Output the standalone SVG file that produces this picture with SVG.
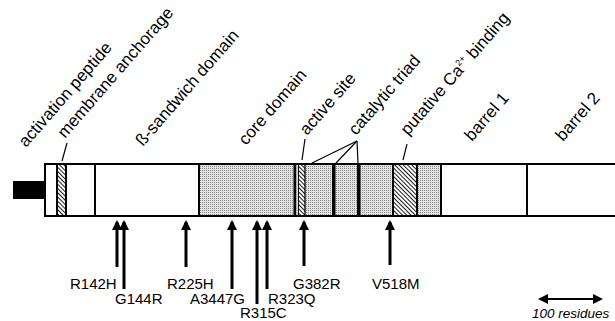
<svg xmlns="http://www.w3.org/2000/svg" width="615" height="321" viewBox="0 0 615 321">
<defs>
<pattern id="hatch" width="3" height="3" patternUnits="userSpaceOnUse" patternTransform="rotate(-45)">
<rect width="3" height="3" fill="#fff"/>
<line x1="0.5" y1="0" x2="0.5" y2="3" stroke="#000" stroke-width="0.9"/>
</pattern>
<pattern id="dots" width="2" height="2" patternUnits="userSpaceOnUse">
<rect width="2" height="2" fill="#e2e2e2"/>
<rect width="1" height="1" fill="#8a8a8a"/>
</pattern>
<marker id="ah" markerWidth="10" markerHeight="10" refX="8" refY="5" orient="auto-start-reverse" markerUnits="userSpaceOnUse" viewBox="0 0 10 10">
<path d="M0,0 L10,5 L0,10 Z" fill="#000"/>
</marker>
</defs>
<style>
.lbl{font-family:"Liberation Sans",Arial,sans-serif;font-size:17px;fill:#000}
.mut{font-family:"Liberation Sans",Arial,sans-serif;font-size:15px;fill:#000}
.arr{stroke:#000;stroke-width:3;fill:none}
.lead{stroke:#000;stroke-width:1.2;fill:none}
.div{stroke:#000;stroke-width:2}
</style>

<g id="stub"><rect x="13" y="181" width="33" height="18" fill="#000"/></g>

<g id="bar">
<rect x="45" y="164" width="580" height="52" fill="#fff" stroke="#000" stroke-width="2"/>
<rect x="57" y="165" width="9" height="50" fill="url(#hatch)"/>
<line class="div" x1="57" y1="164" x2="57" y2="216"/>
<line class="div" x1="66" y1="164" x2="66" y2="216"/>
<line class="div" x1="95" y1="164" x2="95" y2="216"/>
<rect x="199" y="165" width="242" height="50" fill="url(#dots)"/>
<line class="div" x1="199" y1="164" x2="199" y2="216"/>
<rect x="293.5" y="164" width="3" height="52" fill="#000"/>
<rect x="296.5" y="165" width="1.5" height="50" fill="#fff"/>
<line x1="298.5" y1="164" x2="298.5" y2="216" stroke="#000" stroke-width="1.3"/>
<rect x="299" y="165" width="6" height="50" fill="url(#hatch)"/>
<line x1="305" y1="164" x2="305" y2="216" stroke="#000" stroke-width="1.3"/>
<rect x="332" y="164" width="3.5" height="52" fill="#000"/>
<rect x="357" y="164" width="3.5" height="52" fill="#000"/>
<rect x="393" y="165" width="24" height="50" fill="url(#hatch)"/>
<line class="div" x1="393" y1="164" x2="393" y2="216"/>
<line class="div" x1="417" y1="164" x2="417" y2="216"/>
<line class="div" x1="441" y1="164" x2="441" y2="216"/>
<line class="div" x1="527" y1="164" x2="527" y2="216"/>
<line x1="45" y1="164" x2="615" y2="164" stroke="#000" stroke-width="2"/>
<line x1="45" y1="216" x2="615" y2="216" stroke="#000" stroke-width="2"/>
</g>

<g id="domain-labels">
<text class="lbl" transform="translate(26,148) rotate(-49)">activation peptide</text>
<text class="lbl" transform="translate(65,139) rotate(-49)">membrane anchorage</text>
<text class="lbl" transform="translate(143,147) rotate(-49)">ß-sandwich domain</text>
<text class="lbl" transform="translate(246,146) rotate(-49)">core domain</text>
<text class="lbl" transform="translate(307,136) rotate(-49)">active site</text>
<text class="lbl" transform="translate(356,136) rotate(-49)">catalytic triad</text>
<text class="lbl" transform="translate(408,136) rotate(-49)">putative Ca<tspan font-size="9" dy="-7">2+</tspan><tspan dy="7"> binding</tspan></text>
<text class="lbl" transform="translate(472,142) rotate(-49)">barrel 1</text>
<text class="lbl" transform="translate(563,142) rotate(-49)">barrel 2</text>
</g>

<g id="leaders">
<line class="lead" x1="67" y1="143" x2="62" y2="161"/>
<line class="lead" x1="305" y1="139" x2="302" y2="160"/>
<line class="lead" x1="357" y1="141" x2="312" y2="163"/>
<line class="lead" x1="357" y1="141" x2="336" y2="163"/>
<line class="lead" x1="357" y1="141" x2="358" y2="163"/>
<line class="lead" x1="407" y1="144" x2="403" y2="160"/>
</g>

<g id="mutation-arrows">
<line class="arr" x1="117" y1="267" x2="117" y2="222" marker-end="url(#ah)"/>
<line class="arr" x1="124" y1="289" x2="124" y2="222" marker-end="url(#ah)"/>
<line class="arr" x1="186" y1="267" x2="186" y2="222" marker-end="url(#ah)"/>
<line class="arr" x1="232" y1="289" x2="232" y2="222" marker-end="url(#ah)"/>
<line class="arr" x1="257" y1="304" x2="257" y2="222" marker-end="url(#ah)"/>
<line class="arr" x1="267" y1="289" x2="267" y2="222" marker-end="url(#ah)"/>
<line class="arr" x1="304" y1="266" x2="304" y2="222" marker-end="url(#ah)"/>
<line class="arr" x1="390" y1="265" x2="390" y2="222" marker-end="url(#ah)"/>
</g>

<g id="mutation-labels">
<text class="mut" x="70" y="289">R142H</text>
<text class="mut" x="115" y="304">G144R</text>
<text class="mut" x="167" y="289">R225H</text>
<text class="mut" x="190" y="304">A3447G</text>
<text class="mut" x="240" y="317.7">R315C</text>
<text class="mut" x="268" y="304">R323Q</text>
<text class="mut" x="293" y="289">G382R</text>
<text class="mut" x="372" y="289">V518M</text>
</g>

<g id="scale">
<line x1="540" y1="299" x2="601" y2="299" stroke="#000" stroke-width="2" marker-start="url(#ah)" marker-end="url(#ah)"/>
<text x="532" y="318" font-family="Liberation Sans, Arial, sans-serif" font-size="13.5" font-style="italic">100 residues</text>
</g>
</svg>
